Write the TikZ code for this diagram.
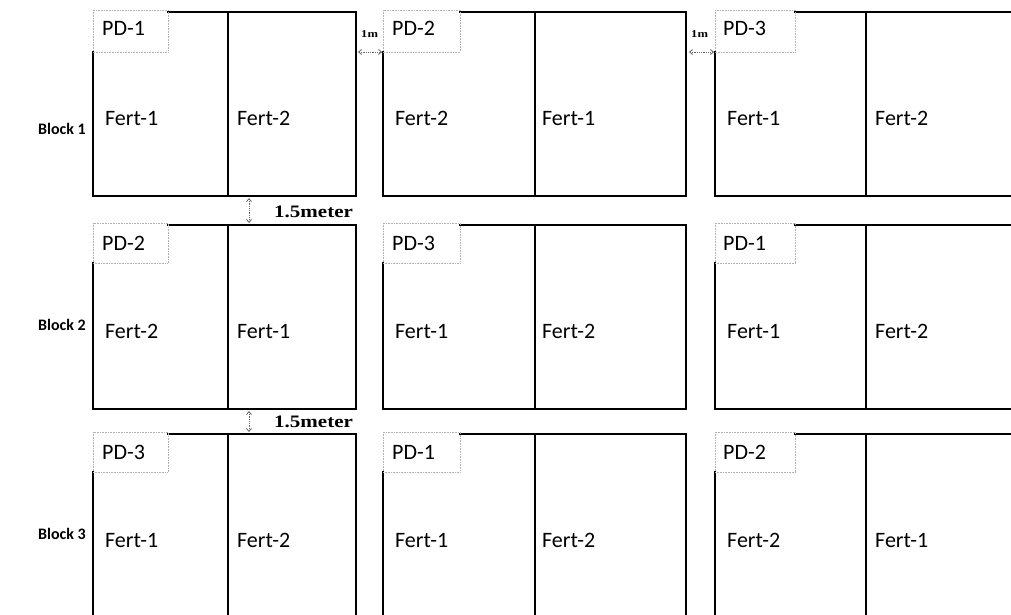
\documentclass[tikz,border=0pt]{standalone}
\usepackage{fontspec}
\setmainfont{Carlito}
\newfontfamily\serifw[FakeStretch=1.2]{Liberation Serif}
\usetikzlibrary{arrows.meta}
\begin{document}
\begin{tikzpicture}[x=1pt,y=-1pt,
  plotline/.style={line width=2pt, line join=miter, line cap=rect},
  labbox/.style={draw=gray!60, densely dotted, line width=0.6pt},
  pd/.style={font=\fontsize{22}{24}\selectfont, anchor=west, inner sep=0pt},
  fert/.style={font=\fontsize{22}{24}\selectfont, anchor=west, inner sep=0pt},
  blk/.style={font=\bfseries\fontsize{16}{18}\selectfont, anchor=west, inner sep=0pt},
  meter/.style={font=\serifw\bfseries\fontsize{17.5}{19}\selectfont, anchor=west, inner sep=0pt},
  onem/.style={font=\serifw\bfseries\fontsize{10.5}{11}\selectfont, anchor=west, inner sep=0pt},
  gap/.style={draw=gray!80!black, densely dotted, line width=0.8pt,
    {Straight Barb[length=3pt,width=5pt]}-{Straight Barb[length=3pt,width=5pt]}},
]
\useasboundingbox (0,0) rectangle (1011,614);
\fill[white] (0,0) rectangle (1011,614);
\begin{scope}
\clip (0,0) rectangle (1011,614);
\foreach \T/\B/\H in {12/196/40, 225/409/38, 434/625/38} {
  \foreach \L/\D/\R/\X in {93/228/356/168, 383/535/686/460, 715/866/1030/795} {
    \draw[plotline] (\X,\T) -- (\R,\T) -- (\R,\B) -- (\L,\B) -- (\L,\T+\H);
    \draw[plotline] (\D,\T) -- (\D,\B);
    \draw[labbox] (\L,\T-2) rectangle (\X,\T+\H);
  }
}
\end{scope}

% block labels
\node[blk] (b1) at (38,129) {Block 1};
\node[blk] (b2) at (38,325) {Block 2};
\node[blk] (b3) at (38,534) {Block 3};

% row 1
\node[pd] (pd11) at (102,28) {PD-1};
\node[pd] (pd12) at (392,28) {PD-2};
\node[pd] (pd13) at (723,28) {PD-3};
\node[fert] (f11a) at (105,118) {Fert-1};
\node[fert] (f11b) at (237,118) {Fert-2};
\node[fert] (f12a) at (395,118) {Fert-2};
\node[fert] (f12b) at (542,118) {Fert-1};
\node[fert] (f13a) at (727,118) {Fert-1};
\node[fert] (f13b) at (875,118) {Fert-2};

% row 2
\node[pd] (pd21) at (102,243) {PD-2};
\node[pd] (pd22) at (392,243) {PD-3};
\node[pd] (pd23) at (723,243) {PD-1};
\node[fert] (f21a) at (105,331) {Fert-2};
\node[fert] (f21b) at (237,331) {Fert-1};
\node[fert] (f22a) at (395,331) {Fert-1};
\node[fert] (f22b) at (542,331) {Fert-2};
\node[fert] (f23a) at (727,331) {Fert-1};
\node[fert] (f23b) at (875,331) {Fert-2};

% row 3
\node[pd] (pd31) at (102,452) {PD-3};
\node[pd] (pd32) at (392,452) {PD-1};
\node[pd] (pd33) at (723,452) {PD-2};
\node[fert] (f31a) at (105,540) {Fert-1};
\node[fert] (f31b) at (237,540) {Fert-2};
\node[fert] (f32a) at (395,540) {Fert-1};
\node[fert] (f32b) at (542,540) {Fert-2};
\node[fert] (f33a) at (727,540) {Fert-2};
\node[fert] (f33b) at (875,540) {Fert-1};

% 1m gaps
\node[onem] (m1) at (361,34) {1m};
\node[onem] (m2) at (691,34) {1m};
\coordinate (g1a) at (358,52);
\coordinate (g1b) at (382,52);
\coordinate (g2a) at (689,52);
\coordinate (g2b) at (714,52);
\draw[gap] (g1a) -- (g1b);
\draw[gap] (g2a) -- (g2b);

% 1.5 meter gaps
\node[meter] (s1) at (274,212) {1.5meter};
\node[meter] (s2) at (274,422) {1.5meter};
\coordinate (v1a) at (249,198);
\coordinate (v1b) at (249,223);
\coordinate (v2a) at (249,411);
\coordinate (v2b) at (249,432);
\draw[gap] (v1a) -- (v1b);
\draw[gap] (v2a) -- (v2b);
\end{tikzpicture}
\end{document}
